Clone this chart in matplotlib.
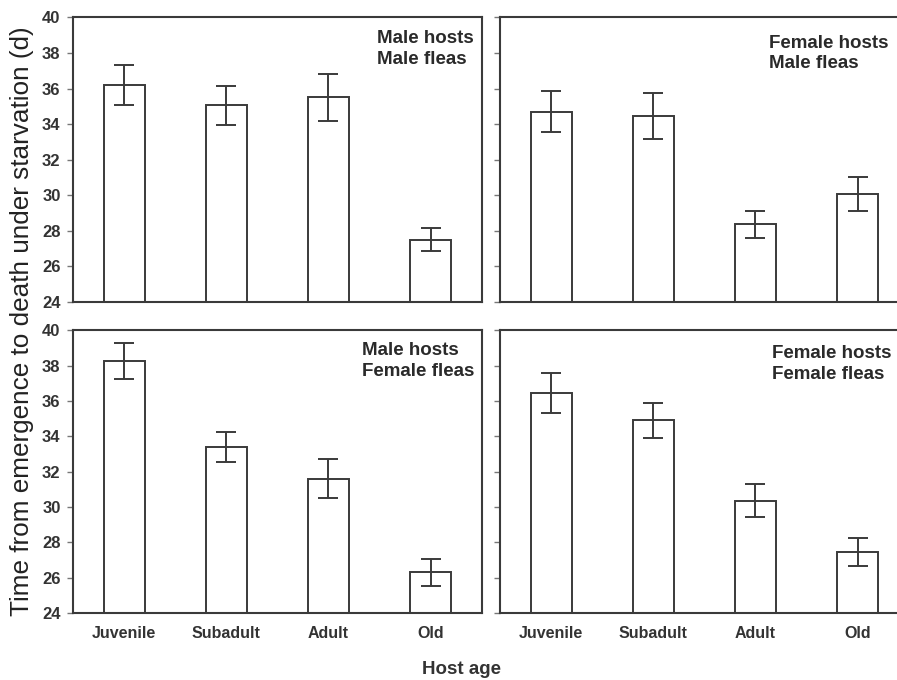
import matplotlib
matplotlib.use("Agg")
import matplotlib.pyplot as plt
import numpy as np

plt.rcParams['font.family'] = ['Liberation Sans', 'DejaVu Sans']

ages = ["Juvenile", "Subadult", "Adult", "Old"]

# mean survival time (d) and error bar half-width per panel
mm_mean = [36.2, 35.05, 35.5, 27.5]
mm_err = [1.1, 1.1, 1.3, 0.67]
fm_mean = [34.7, 34.45, 28.35, 30.05]
fm_err = [1.17, 1.3, 0.75, 0.97]
mf_mean = [38.25, 33.4, 31.6, 26.3]
mf_err = [1.0, 0.83, 1.1, 0.75]
ff_mean = [36.45, 34.9, 30.35, 27.45]
ff_err = [1.15, 1.0, 0.93, 0.8]

panels = [
    ([0.0814, 0.5563, 0.4556, 0.418], mm_mean, mm_err, "Male hosts\nMale fleas", (0.744, 0.955), True, False),
    ([0.5574, 0.5563, 0.4556, 0.418], fm_mean, fm_err, "Female hosts\nMale fleas", (0.658, 0.94), False, False),
    ([0.0814, 0.0985, 0.4556, 0.416], mf_mean, mf_err, "Male hosts\nFemale fleas", (0.706, 0.958), True, True),
    ([0.5574, 0.0985, 0.4556, 0.416], ff_mean, ff_err, "Female hosts\nFemale fleas", (0.666, 0.948), False, True),
]

dark = "#3a3a3a"
fig = plt.figure(figsize=(8.97, 6.8), dpi=100)

for rect, mean, err, label, (tx, ty), show_y, show_x in panels:
    ax = fig.add_axes(rect)
    x = np.arange(len(ages))
    ax.bar(x, mean, width=0.4, bottom=0, color="white", edgecolor=dark, linewidth=1.4, zorder=2)
    ax.errorbar(x, mean, yerr=err, fmt="none", ecolor=dark, elinewidth=1.4,
                capsize=7.5, capthick=1.4, zorder=3)
    ax.set_xlim(-0.5, 3.5)
    ax.set_ylim(24, 40)
    ax.set_yticks(np.arange(24, 41, 2))
    ax.set_xticks(x)
    for s in ax.spines.values():
        s.set_color(dark)
        s.set_linewidth(1.5)
    ax.tick_params(axis="y", direction="out", length=4, width=1, color="#777777",
                   labelsize=12, labelcolor="#333333", pad=5)
    ax.tick_params(axis="x", length=0, labelsize=11.5, labelcolor="#333333", pad=9)
    if show_y:
        ax.set_yticklabels([str(v) for v in range(24, 41, 2)], fontweight="bold")
    else:
        ax.set_yticklabels([])
    if show_x:
        ax.set_xticklabels(ages, fontweight="bold")
    else:
        ax.set_xticklabels([])
    ax.text(tx, ty, label, transform=ax.transAxes, ha="left", va="top",
            fontsize=13.5, fontweight="bold", color="#2a2a2a", linespacing=1.3)

fig.text(0.024, 0.528, "Time from emergence to death under starvation (d)",
         rotation=90, ha="center", va="center", fontsize=18.8, color="#222222")
fig.text(0.515, 0.016, "Host age", ha="center", va="center", fontsize=13.5,
         fontweight="bold", color="#333333")

fig.savefig("out.png", dpi=100)
